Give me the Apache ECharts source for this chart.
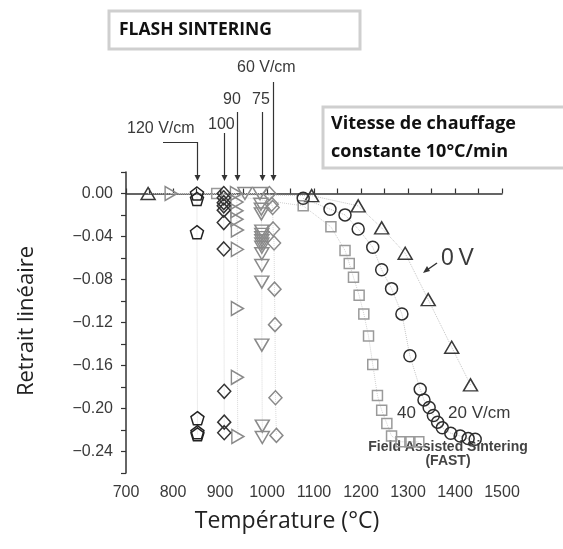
<!DOCTYPE html>
<html><head><meta charset="utf-8">
<script src="https://cdn.jsdelivr.net/npm/echarts@6/dist/echarts.min.js"></script>
<style>html,body{margin:0;padding:0;background:#fff}#c{width:563px;height:549px}</style>
</head><body><div id="c"></div>
<script>
// ---- data (temperature °C, linear shrinkage) ----
const xTicks = [700, 800, 900, 1000, 1100, 1200, 1300, 1400, 1500];
const yTickLabels = [0, -0.04, -0.08, -0.12, -0.16, -0.20, -0.24];

const temps0V = [747, 1095, 1194, 1244, 1294, 1343, 1393, 1433];
const shrink0V = [0, -0.002, -0.0115, -0.032, -0.0556, -0.0987, -0.143, -0.178];

const temps20 = [1077, 1134, 1166, 1194, 1225, 1244, 1265, 1287, 1304, 1326, 1334, 1345, 1354, 1363, 1373, 1391, 1411, 1428, 1443];
const shrink20 = [-0.0045, -0.0146, -0.0199, -0.033, -0.050, -0.071, -0.0885, -0.112, -0.151, -0.182, -0.192, -0.199, -0.2065, -0.2127, -0.218, -0.223, -0.2256, -0.228, -0.2286];

const temps40 = [893, 1077, 1136, 1166, 1175, 1184, 1196, 1206, 1216, 1225, 1235, 1244, 1255, 1265, 1285, 1304, 1323];
const shrink40 = [0, -0.0115, -0.031, -0.053, -0.065, -0.078, -0.0947, -0.112, -0.1326, -0.159, -0.188, -0.2016, -0.214, -0.2256, -0.231, -0.231, -0.231];

const temps60 = [1005, 1010, 1012, 1013, 1015, 1016, 1017, 1018, 1020];
const shrink60 = [0, -0.010, -0.013, -0.033, -0.046, -0.089, -0.122, -0.190, -0.225];

const temps75 = [953, 985, 987, 988, 988, 989, 989, 989, 989, 989, 989, 989, 989, 989, 989, 990, 990];
const shrink75 = [0, 0, -0.010, -0.0146, -0.019, -0.035, -0.038, -0.041, -0.044, -0.047, -0.050, -0.056, -0.067, -0.0824, -0.141, -0.2164, -0.227];

const temps90 = [796, 935, 936, 936, 936, 937, 937, 937, 937, 938];
const shrink90 = [0, 0, -0.008, -0.016, -0.024, -0.034, -0.052, -0.107, -0.171, -0.226];

const temps100 = [908, 908, 908, 908, 908, 908, 908, 909, 909, 909];
const shrink100 = [0, -0.004, -0.0085, -0.0115, -0.0155, -0.027, -0.0516, -0.184, -0.2127, -0.2225];

const temps120 = [851, 851, 851, 852, 852, 852];
const shrink120 = [0, -0.005, -0.036, -0.209, -0.222, -0.224];

const fieldLabels = ['120 V/cm', '100', '90', '75', '60 V/cm'];
const fieldTemps = [851, 908, 936, 989, 1013];

// ---- chart ----
const zip = (a, b) => a.map((v, i) => [v, b[i]]);
const pentagon = 'path://M0,-1 L0.951,-0.309 L0.588,0.809 L-0.588,0.809 L-0.951,-0.309 Z';

function ser(name, xs, ys, symbol, size, stroke, rotate, lineColor) {
  return {
    name, type: 'line', data: zip(xs, ys), symbol, symbolSize: size, symbolRotate: rotate || 0,
    showAllSymbol: true, z: 3,
    lineStyle: { color: lineColor || '#c8c8c8', width: 1, type: 'dotted' },
    itemStyle: { color: 'rgba(255,255,255,0)', borderColor: stroke, borderWidth: 1.5 }
  };
}

const chart = echarts.init(document.getElementById('c'), null, { renderer: 'canvas' });
const lblFont = { fontFamily: 'Liberation Sans', fontSize: 16, color: '#3a3a3a' };
chart.setOption({
  animation: false,
  grid: { left: 126, right: 61, top: 172, bottom: 76 },
  xAxis: {
    type: 'value', min: xTicks[0], max: xTicks[xTicks.length - 1], interval: 100,
    axisLine: { lineStyle: { color: '#333', width: 1.5 } },
    axisTick: { inside: true, length: 5, lineStyle: { color: '#333', width: 1.2 } },
    minorTick: { show: true, splitNumber: 2, length: 5, lineStyle: { color: '#333', width: 1.2 } },
    axisLabel: Object.assign({ margin: 12, formatter: v => String(Math.round(v)) }, lblFont),
    splitLine: { show: false }
  },
  yAxis: {
    type: 'value', min: -0.26, max: 0.02, interval: 0.02,
    axisLine: { show: true, lineStyle: { color: '#333', width: 1.5 } },
    axisTick: { show: true, inside: false, length: 5, lineStyle: { color: '#333', width: 1.2 } },
    axisLabel: Object.assign({
      margin: 13,
      formatter: v => {
        const hit = yTickLabels.find(t => Math.abs(t - v) < 1e-6);
        if (hit === undefined) return '';
        return hit === 0 ? '0.00' : '\u2212' + Math.abs(hit).toFixed(2);
      }
    }, lblFont),
    splitLine: { show: false }
  },
  series: [
    ser('0 V', temps0V, shrink0V, 'triangle', [14, 12], '#3a3a3a', 0, '#c4c4c4'),
    ser('40 V/cm', temps40, shrink40, 'rect', 10, '#9a9a9a', 0, '#cfcfcf'),
    ser('20 V/cm', temps20, shrink20, 'circle', 12, '#2e2e2e', 0, '#c4c4c4'),
    ser('60 V/cm', temps60, shrink60, 'diamond', [13, 14], '#8a8a8a', 0, '#d8d8d8'),
    ser('75 V/cm', temps75, shrink75, 'triangle', [14, 12], '#8a8a8a', 180, '#d8d8d8'),
    ser('90 V/cm', temps90, shrink90, 'triangle', [14, 12], '#8a8a8a', -90, '#d8d8d8'),
    ser('100 V/cm', temps100, shrink100, 'diamond', [13, 14], '#333', 0, '#d8d8d8'),
    ser('120 V/cm', temps120, shrink120, pentagon, 13, '#222', 0, '#d8d8d8')
  ]
});

// ---- annotations ----
const g = [];
const arrowTops = [142, 133, 112, 112, 82];
const tipY = 181;
fieldTemps.forEach((t, i) => {
  const x = Math.round(chart.convertToPixel({ xAxisIndex: 0 }, t)) + 0.5;
  g.push({ type: 'line', shape: { x1: x, y1: arrowTops[i], x2: x, y2: tipY - 4 }, style: { stroke: '#333', lineWidth: 1.2 } });
  g.push({ type: 'polygon', shape: { points: [[x - 3, tipY - 6], [x + 3, tipY - 6], [x, tipY]] }, style: { fill: '#333' } });
});
const x120 = Math.round(chart.convertToPixel({ xAxisIndex: 0 }, fieldTemps[0])) + 0.5;
g.push({ type: 'line', shape: { x1: 163, y1: 142.5, x2: x120, y2: 142.5 }, style: { stroke: '#333', lineWidth: 1.2 } });
const txt = (text, x, y, opts) => g.push({ type: 'text', x, y, style: Object.assign({ text, fill: '#3a3a3a', font: '16px "Liberation Sans"', textVerticalAlign: 'middle' }, opts || {}) });
txt(fieldLabels[0], 127, 129);
txt(fieldLabels[1], 208, 125);
txt(fieldLabels[2], 223, 100);
txt(fieldLabels[3], 252, 100);
txt(fieldLabels[4], 237, 68);

// 0 V label with arrow
g.push({ type: 'line', shape: { x1: 437, y1: 263, x2: 427, y2: 270 }, style: { stroke: '#333', lineWidth: 1.5 } });
g.push({ type: 'polygon', shape: { points: [[423, 273], [427, 266], [430, 271]] }, style: { fill: '#333' } });
txt('0\u2009V', 441, 259, { font: '23px "Liberation Sans"' });
txt('40', 397, 413, { font: '17px "Liberation Sans"' });
txt('20 V/cm', 448, 413, { font: '17px "Liberation Sans"' });
txt('Field Assisted Sintering', 448, 447, { font: 'bold 14px "Liberation Sans"', textAlign: 'center', fill: '#444' });
txt('(FAST)', 448, 461, { font: 'bold 14px "Liberation Sans"', textAlign: 'center', fill: '#444' });

// boxes
g.push({ type: 'rect', shape: { x: 109, y: 11, width: 251, height: 38 }, style: { fill: '#fff', stroke: '#cfcfcf', lineWidth: 3 } });
txt('FLASH SINTERING', 119, 30, { font: 'bold 17.5px "Open Sans"', fill: '#111' });
g.push({ type: 'rect', shape: { x: 323, y: 107, width: 250, height: 61 }, style: { fill: '#fff', stroke: '#cfcfcf', lineWidth: 3 } });
txt('Vitesse de chauffage', 331, 124, { font: 'bold 18px "Open Sans"', fill: '#111' });
txt('constante 10\u00b0C/min', 331, 152, { font: 'bold 18px "Open Sans"', fill: '#111' });

// axis titles
txt('Temp\u00e9rature (\u00b0C)', 287, 521, { font: '23px "Open Sans"', textAlign: 'center', fill: '#222' });
g.push({ type: 'text', x: 27, y: 321, rotation: Math.PI / 2, style: { text: 'Retrait lin\u00e9aire', font: '22px "Open Sans"', fill: '#222', textAlign: 'center', textVerticalAlign: 'middle' } });

chart.setOption({ graphic: { elements: g } });
</script>
</body></html>
